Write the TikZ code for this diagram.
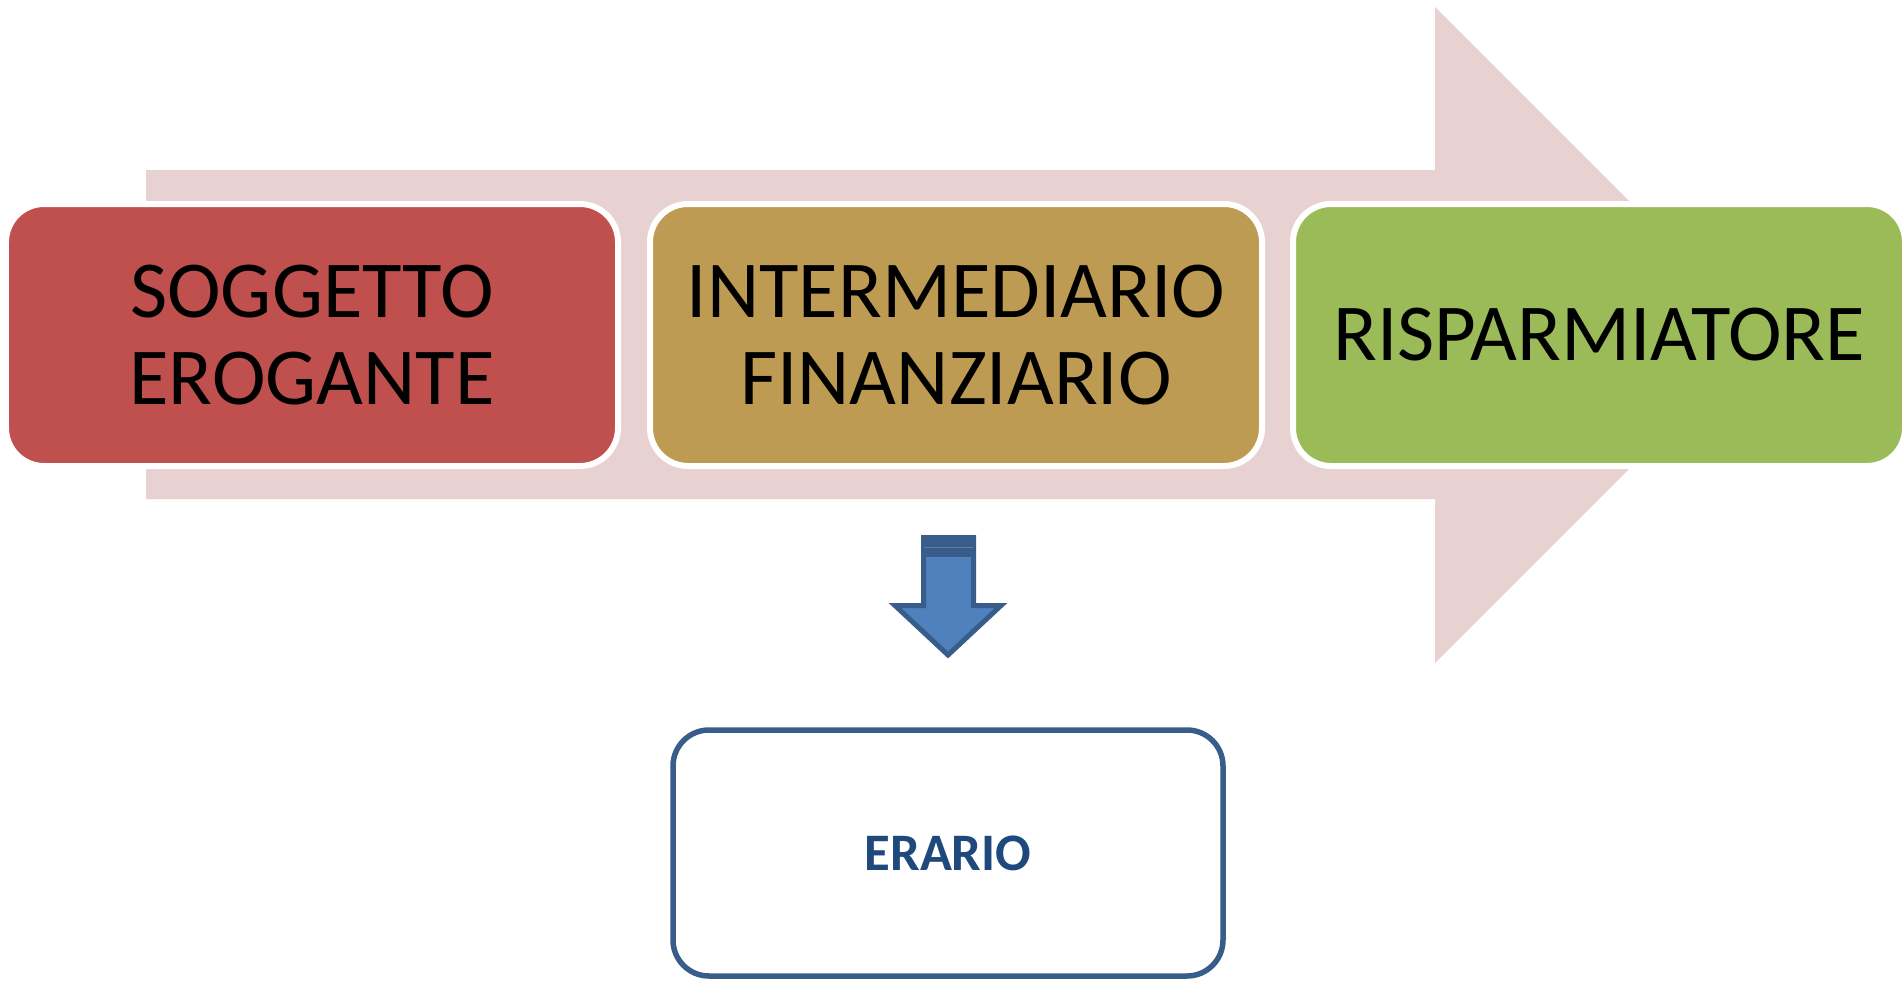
\documentclass[tikz,border=0pt]{standalone}
\usepackage{fontspec}
\setmainfont{Carlito}

\definecolor{flowpink}{RGB}{232,209,209}
\definecolor{boxred}{RGB}{192,80,77}
\definecolor{boxgold}{RGB}{190,155,82}
\definecolor{boxgreen}{RGB}{155,187,89}
\definecolor{taxblue}{RGB}{79,129,189}
\definecolor{taxline}{RGB}{56,93,138}
\definecolor{taxtext}{RGB}{31,73,125}

\tikzset{
  procbox/.style={rectangle, rounded corners=0.38cm, draw=white, line width=0.06cm,
    minimum width=6.12cm, minimum height=2.62cm, inner sep=0pt, outer sep=0pt,
    align=center, text=black, font=\fontsize{23}{24.5}\selectfont},
  taxbox/.style={rectangle, rounded corners=0.36cm, draw=taxline, line width=0.055cm,
    fill=white, minimum width=5.50cm, minimum height=2.46cm, inner sep=0pt,
    text=taxtext, font=\fontsize{15}{18}\selectfont\bfseries}
}

\begin{document}
\begin{tikzpicture}
                \useasboundingbox (0,0) rectangle (19.020000,9.800000);
                
                % Drawing process arrow behind the boxes
                \fill [flowpink] (1.460000,8.100000) -- (14.350000,8.100000) -- (14.350000,9.730000) -- (17.630000,6.450000) -- (14.350000,3.170000) -- (14.350000,4.810000) -- (1.460000,4.810000) -- cycle;%
                
                % Box S (soggetto)
                \node [procbox, fill=boxred] (soggetto) at (3.120000,6.450000) {SOGGETTO\\EROGANTE};%
                
                % Box I (intermediario)
                \node [procbox, fill=boxgold] (intermediario) at (9.560000,6.450000) {INTERMEDIARIO\\FINANZIARIO};%
                
                % Box R (risparmiatore)
                \node [procbox, fill=boxgreen] (risparmiatore) at (15.990000,6.450000) {RISPARMIATORE};%
                
                % Drawing down arrow
                \draw [line width=0.050000cm, draw=taxline, fill=taxblue, line join=miter] (9.235000,4.425000) -- (9.735000,4.425000) -- (9.735000,3.745000) -- (10.010000,3.745000) -- (9.480000,3.250000) -- (8.950000,3.745000) -- (9.235000,3.745000) -- cycle;%
                \fill [taxline] (9.210000,4.450000) rectangle (9.760000,4.230000);%
                \draw [line width=0.010000cm, draw=taxline!80!white] (9.240000,4.330000) -- (9.730000,4.330000);%
                
                % Box E (erario)
                \node [taxbox] (erario) at (9.480000,1.270000) {ERARIO};%
\end{tikzpicture}
\end{document}
